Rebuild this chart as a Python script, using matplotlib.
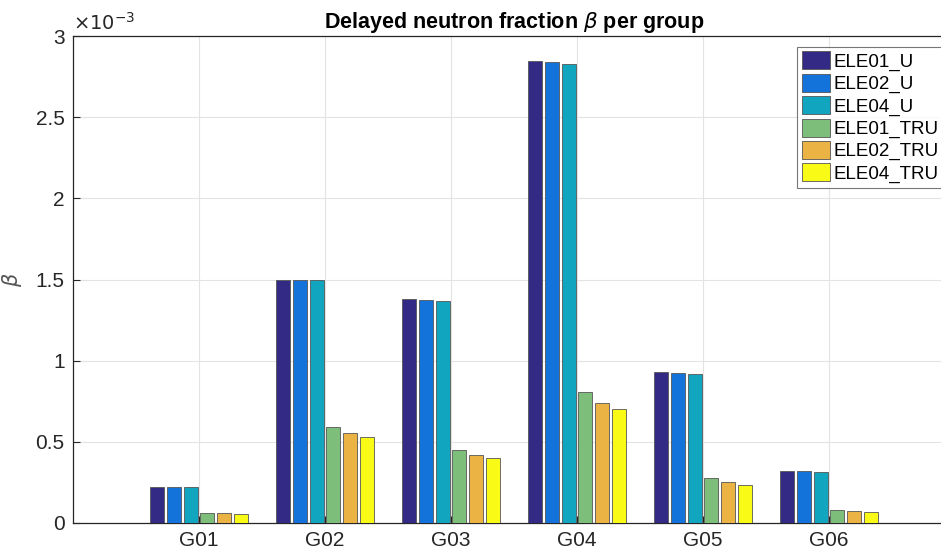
import matplotlib.pyplot as plt
import numpy as np
from matplotlib.patches import Patch

plt.rcParams['font.family'] = ['Liberation Sans', 'DejaVu Sans']

# Delayed neutron fraction per precursor group (units of 1e-3)
groups = ["G01", "G02", "G03", "G04", "G05", "G06"]
series = ["ELE01_U", "ELE02_U", "ELE04_U", "ELE01_TRU", "ELE02_TRU", "ELE04_TRU"]
ele01_u = [0.222, 1.500, 1.377, 2.848, 0.932, 0.322]
ele02_u = [0.222, 1.498, 1.371, 2.838, 0.926, 0.318]
ele04_u = [0.221, 1.494, 1.369, 2.828, 0.920, 0.316]
ele01_tru = [0.063, 0.591, 0.449, 0.810, 0.275, 0.078]
ele02_tru = [0.060, 0.552, 0.417, 0.741, 0.251, 0.072]
ele04_tru = [0.057, 0.530, 0.402, 0.704, 0.236, 0.066]

colors = ["#332a86", "#1373da", "#12a5c0", "#7dbf7a", "#ebb244", "#f9fa15"]
data = [ele01_u, ele02_u, ele04_u, ele01_tru, ele02_tru, ele04_tru]

fig = plt.figure(figsize=(9.41, 5.57), dpi=100)
ax = fig.add_axes([73 / 941, 34 / 557, 882 / 941, 487 / 557])

x = np.arange(1, len(groups) + 1)
step = 0.133
width = 0.111
for k, (vals, c) in enumerate(zip(data, colors)):
    ax.bar(x + (k - 2.5) * step, vals, width, color=c, edgecolor="#555555",
           linewidth=0.6, zorder=3)

ax.set_xlim(0, 7)
ax.set_ylim(0, 3)
ax.set_xticks(x)
ax.set_xticklabels(groups)
ax.set_yticks([0, 0.5, 1, 1.5, 2, 2.5, 3])
ax.set_yticklabels(["0", "0.5", "1", "1.5", "2", "2.5", "3"])
ax.tick_params(direction="in", length=5, labelsize=15, colors="#262626",
               width=0.8, pad=6)
ax.grid(True, color="#e3e3e3", linewidth=0.8, zorder=0)
for s in ax.spines.values():
    s.set_color("#262626")
    s.set_linewidth(0.9)

ax.set_ylabel(r"$\beta$", fontsize=15, color="#555555", labelpad=8)
ax.set_title(r"Delayed neutron fraction $\beta$ per group", fontsize=15.5,
             fontweight="bold", pad=6)
ax.text(0.0, 1.005, r"$\times10^{-3}$", transform=ax.transAxes, fontsize=14,
        color="#262626", ha="left", va="bottom")

handles = [Patch(facecolor=c, edgecolor="#555555", linewidth=0.6) for c in colors]
leg = ax.legend(handles, series, loc="upper left", bbox_to_anchor=(0.821, 0.978),
                fontsize=13.5, frameon=True, fancybox=False, borderpad=0.25,
                handlelength=1.5, handleheight=1.1, handletextpad=0.2,
                labelspacing=0.15, borderaxespad=0)
leg.get_frame().set_edgecolor("#555555")
leg.get_frame().set_linewidth(0.8)

fig.savefig("out.png", dpi=100)
